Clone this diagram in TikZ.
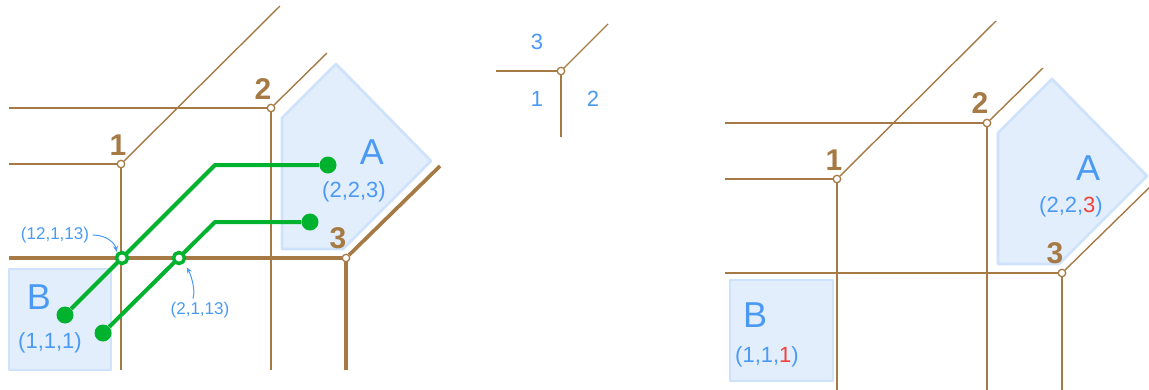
\documentclass[tikz,border=0pt]{standalone}
\usepackage{fontspec}
\setmainfont{Liberation Sans}
\usetikzlibrary{arrows.meta}
\definecolor{edgebrown}{RGB}{166,122,68}
\definecolor{labelblue}{RGB}{74,154,245}
\definecolor{regionfill}{RGB}{227,238,252}
\definecolor{regionline}{RGB}{207,226,251}
\definecolor{pathgreen}{RGB}{0,178,45}
\definecolor{hlred}{RGB}{240,65,58}
\begin{document}
\begin{tikzpicture}[x=1pt, y=-1pt,
    edge/.style={draw=edgebrown, line width=1.4pt},
    cut/.style={draw=edgebrown, line width=3.7pt},
    vertex/.style={circle, draw=edgebrown, fill=white, line width=1.3pt, inner sep=0pt, minimum size=7.5pt},
    vnum/.style={text=edgebrown, font=\fontsize{30}{30}\selectfont\bfseries},
    region/.style={fill=regionfill, draw=regionline, line width=2.8pt, line join=round},
    rname/.style={text=labelblue, font=\fontsize{36}{36}\selectfont},
    rcoord/.style={text=labelblue, font=\fontsize{22}{22}\selectfont},
    sector/.style={text=labelblue, font=\fontsize{22}{22}\selectfont},
    small/.style={text=labelblue, font=\fontsize{17}{17}\selectfont},
    route/.style={draw=pathgreen, line width=4pt, line join=round},
    pin/.style={circle, fill=pathgreen, inner sep=0pt, minimum size=17pt},
    hit/.style={circle, draw=pathgreen, fill=white, line width=3.5pt, inner sep=0pt, minimum size=11pt},
    note/.style={draw=labelblue, line width=1pt, -{Stealth[length=6pt,width=5pt]}}]
\useasboundingbox (0,0) rectangle (1149,389);

% left: regions
\draw[region] (336,64) -- (282,118) -- (282,249) -- (343,249) -- (431,161) -- cycle;
\draw[region] (9,269) rectangle (111,370);
% left: vertices and edges
\node[vertex] (v1) at (121,164) {};
\node[vertex] (v2) at (271,108) {};
\node[vertex] (v3) at (346,258) {};
\coordinate (w1) at (9,164);
\coordinate (w2) at (9,108);
\coordinate (w3) at (9,258);
\coordinate (s1) at (121,370);
\coordinate (s2) at (271,370);
\coordinate (s3) at (346,370);
\coordinate (d1) at (280,6);
\coordinate (d2) at (327,53);
\coordinate (d3) at (440,166);
\draw[edge] (w1) -- (v1) -- (s1);
\draw[edge] (v1) -- (d1);
\draw[edge] (w2) -- (v2) -- (s2);
\draw[edge] (v2) -- (d2);
\draw[cut] (w3) -- (v3) -- (s3);
\draw[cut] (v3) -- (d3);
\node[vnum] (n1) at (118,145) {1};
\node[vnum] (n2) at (263,89) {2};
\node[vnum] (n3) at (338,238) {3};
\node[rname] (ta) at (372,152) {A};
\node[rcoord] (ca) at (354,192) {(2,2,3)};
\node[rname] (tb) at (39,297) {B};
\node[rcoord] (cb) at (50,343) {(1,1,1)};
% left: green routes
\node[pin] (pa1) at (328,165) {};
\node[pin] (pa2) at (310,222) {};
\node[pin] (pb1) at (65,315) {};
\node[pin] (pb2) at (103,333) {};
\coordinate (k1) at (215,165);
\coordinate (k2) at (215,222);
\draw[route] (pa1) -- (k1) -- (pb1);
\draw[route] (pa2) -- (k2) -- (pb2);
\node[hit] (h1) at (122,258) {};
\node[hit] (h2) at (179,258) {};
\node[small] (l1) at (55,235) {(12,1,13)};
\node[small] (l2) at (200,310) {(2,1,13)};
\draw[note, shorten >=1pt] (l1.east) .. controls +(14,0) and +(-2,-10) .. (h1.north west);
\draw[note, shorten >=5pt] ([xshift=-7pt]l2.north) .. controls +(3,-10) and +(6,10) .. (h2.south east);

% middle: sectors round one vertex
\node[vertex] (m) at (561,71) {};
\coordinate (ml) at (496,71);
\coordinate (md) at (561,137);
\coordinate (mu) at (608,24);
\draw[edge] (ml) -- (m) -- (md);
\draw[edge] (m) -- (mu);
\node[sector] (m3) at (537,42) {3};
\node[sector] (m1) at (537,99) {1};
\node[sector] (m2) at (593,99) {2};

% right
\begin{scope}[shift={(716,15)}]
\draw[region] (336,64) -- (282,118) -- (282,249) -- (343,249) -- (431,161) -- cycle;
\draw[region] (14,265) rectangle (117,366);
\node[vertex] (r1) at (121,164) {};
\node[vertex] (r2) at (271,108) {};
\node[vertex] (r3) at (346,258) {};
\coordinate (rw1) at (9,164);
\coordinate (rw2) at (9,108);
\coordinate (rw3) at (9,258);
\coordinate (rs1) at (121,375);
\coordinate (rs2) at (271,375);
\coordinate (rs3) at (346,375);
\coordinate (rd1) at (280,6);
\coordinate (rd2) at (327,53);
\coordinate (rd3) at (440,166);
\draw[edge] (rw1) -- (r1) -- (rs1);
\draw[edge] (r1) -- (rd1);
\draw[edge] (rw2) -- (r2) -- (rs2);
\draw[edge] (r2) -- (rd2);
\draw[edge] (rw3) -- (r3) -- (rs3);
\draw[edge] (r3) -- (rd3);
\node[vnum] (rn1) at (118,145) {1};
\node[vnum] (rn2) at (264,88) {2};
\node[vnum] (rn3) at (339,238) {3};
\node[rname] (rta) at (372,153) {A};
\node[rcoord] (rca) at (355,192) {(2,2,\textcolor{hlred}{3})};
\node[rname] (rtb) at (39,300) {B};
\node[rcoord] (rcb) at (51,342) {(1,1,\textcolor{hlred}{1})};
\end{scope}
\end{tikzpicture}
\end{document}
